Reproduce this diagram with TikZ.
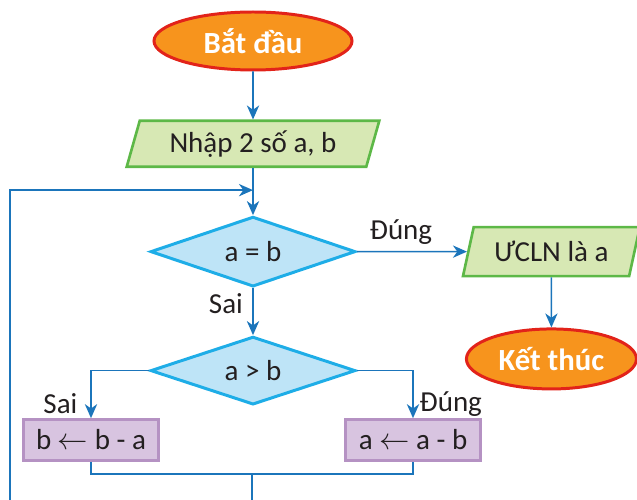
\documentclass[tikz,border=0pt]{standalone}
\usepackage{fontspec}
\setmainfont{Carlito}
\usetikzlibrary{arrows.meta,positioning,shapes.geometric,calc}
\definecolor{termfill}{HTML}{F7941D}
\definecolor{termdraw}{HTML}{E2231A}
\definecolor{iofill}{HTML}{D7E8B4}
\definecolor{iodraw}{HTML}{5DB847}
\definecolor{decfill}{HTML}{BEE4F7}
\definecolor{decdraw}{HTML}{1EADE7}
\definecolor{procfill}{HTML}{D8C4E0}
\definecolor{procdraw}{HTML}{B592C3}
\definecolor{flow}{HTML}{1B75BB}
\definecolor{txt}{HTML}{231F20}

\begin{document}
\begin{tikzpicture}[
    font=\fontsize{16.5}{19}\selectfont, text=txt,
    term/.style={ellipse, fill=termfill, draw=termdraw, line width=1.7pt, minimum width=3.96cm, minimum height=1.16cm, text=white, font=\fontsize{17.5}{20}\selectfont\bfseries},
    io/.style={trapezium, trapezium left angle=75, trapezium right angle=105, trapezium stretches=true, fill=iofill, draw=iodraw, line width=1.5pt, minimum height=0.92cm},
    decision/.style={diamond, aspect=3, inner sep=0pt, fill=decfill, draw=decdraw, line width=1.7pt, minimum width=4.1cm, minimum height=1.4cm},
    proc/.style={rectangle, fill=procfill, draw=procdraw, line width=1.5pt, minimum width=2.7cm, minimum height=0.82cm},
    arr/.style={-{Stealth[length=8pt,width=7pt,inset=2.5pt]}, draw=flow, line width=0.9pt},
    line/.style={draw=flow, line width=0.9pt},
]
\useasboundingbox (0,0) rectangle (12.74,-10);

\node[term] (start) at (5.06,-0.82) {Bắt đầu};
\node[io, below=0.96cm of start, minimum width=5.06cm] (input) {Nhập 2 số a, b};
\node[decision, below=0.94cm of input] (eq) {a = b};
\node[io, right=2.2cm of eq, minimum width=3.56cm, minimum height=0.98cm] (gcd) {ƯCLN là a};
\node[term, below=1.0cm of gcd, minimum width=3.4cm, minimum height=1.2cm] (stop) {Kết thúc};
\node[decision, below=0.94cm of eq, minimum height=1.36cm] (gt) {a > b};
\node[proc] (subb) at (1.82,-8.8) {b $\leftarrow$ b - a};
\node[proc] (suba) at (8.26,-8.8) {a $\leftarrow$ a - b};

\coordinate (join) at ($(eq.north)+(0,0.5)$);
\coordinate (merge) at (5.04,-9.48);
\coordinate (endL) at (0.2,-10);
\coordinate (endC) at (5.04,-10);

\draw[arr] (start) -- (input);
\draw[arr] (input) -- (eq);
\draw[arr] (eq) -- node[above, pos=0.4] {Đúng} (gcd);
\draw[arr] (gcd) -- (stop);
\draw[arr] (eq) -- node[left, pos=0.32, xshift=-2pt] {Sai} (gt);
\draw[arr] (gt.west) -| node[left, pos=0.85, xshift=-4pt] {Sai} (subb.north);
\draw[arr] (gt.east) -| node[right, pos=0.85] {Đúng} (suba.north);

% merge and loop back
\draw[line] (subb.south) |- (merge) -| (suba.south);
\draw[line] (merge) -- (endC);
\draw[arr] (endL) |- (join);
\end{tikzpicture}
\end{document}
